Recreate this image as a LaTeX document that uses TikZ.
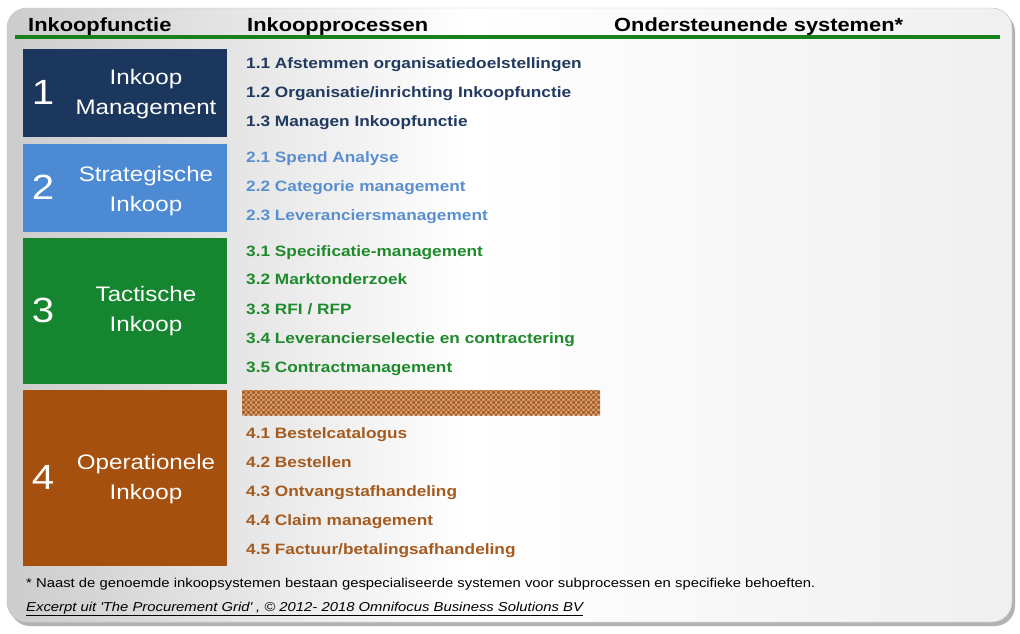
\documentclass[tikz,border=0pt]{standalone}
\usepackage{fontspec}
\setmainfont{Liberation Sans}
\newfontfamily\widefont{Liberation Sans}[FakeStretch=1.15]
\usetikzlibrary{positioning, patterns}

\definecolor{navyblue}{RGB}{28,55,94}
\definecolor{skyblue}{RGB}{77,138,212}
\definecolor{leafgreen}{RGB}{21,133,48}
\definecolor{rustbrown}{RGB}{165,80,15}
\definecolor{navytext}{RGB}{33,58,96}
\definecolor{skytext}{RGB}{90,143,207}
\definecolor{leaftext}{RGB}{30,138,43}
\definecolor{rusttext}{RGB}{165,90,30}
\definecolor{headgreen}{RGB}{24,128,28}
\definecolor{hatchfill}{RGB}{228,186,146}
\definecolor{hatchdots}{RGB}{172,96,40}

% diamond dot lattice for the bar above 4.x
\pgfdeclarepatternformonly{latticedots}{\pgfqpoint{0pt}{0pt}}{\pgfqpoint{4.6pt}{4.6pt}}{\pgfqpoint{4.6pt}{4.6pt}}{
  \pgfpathcircle{\pgfqpoint{2.3pt}{2.3pt}}{1.7pt}
  \pgfpathcircle{\pgfqpoint{0pt}{0pt}}{1.7pt}
  \pgfpathcircle{\pgfqpoint{4.6pt}{0pt}}{1.7pt}
  \pgfpathcircle{\pgfqpoint{0pt}{4.6pt}}{1.7pt}
  \pgfpathcircle{\pgfqpoint{4.6pt}{4.6pt}}{1.7pt}
  \pgfusepath{fill}}

\newcommand\headfont{\widefont\bfseries\fontsize{19}{22}\selectfont}
\newcommand\itemfont{\widefont\bfseries\fontsize{15}{18}\selectfont}
\newcommand\boxfont{\widefont\fontsize{21}{30}\selectfont}
\newcommand\numfont{\widefont\fontsize{35}{35}\selectfont}
\newcommand\notefont{\widefont\fontsize{12.9}{15}\selectfont}

\begin{document}
\begin{tikzpicture}[x=1pt,y=-1pt,
    catbox/.style={rectangle, anchor=north west, inner sep=0pt, minimum width=204pt},
    catnum/.style={text=white, font=\numfont, inner sep=0pt},
    catlbl/.style={text=white, font=\boxfont, align=center, inner sep=0pt},
    item/.style={anchor=base west, inner sep=0pt, font=\itemfont},
    head/.style={anchor=base west, inner sep=0pt, font=\headfont},
    note/.style={anchor=base west, inner sep=0pt, font=\notefont}]
  \useasboundingbox (0,0) rectangle (1020,633);
  % Card with shadow
  \fill[black!30, rounded corners=20pt] (10,12) rectangle (1015,626);
  \fill[white, rounded corners=20pt] (7,8) rectangle (1012,622);
  \begin{scope}
    \clip[rounded corners=20pt] (7,8) rectangle (1012,622);
    \shade[left color=black!20, right color=white] (7,8) rectangle (470,622);
    \shade[left color=white, right color=black!6] (470,8) rectangle (1012,622);
  \end{scope}
  \draw[black!25, rounded corners=20pt] (7,8) rectangle (1012,622);

  % Column heads
  \node[head] (hfunctie) at (28,31) {Inkoopfunctie};
  \node[head] (hprocessen) at (247,31) {Inkoopprocessen};
  \node[head] (hsystemen) at (614,31) {Ondersteunende systemen*};
  \draw[headgreen, line width=4pt] (15,37) -- (1000,37);

  % Inkoopfuncties
  \node[catbox, fill=navyblue, minimum height=88pt] (cat1) at (23,49) {};
  \node[catbox, fill=skyblue, minimum height=88pt] (cat2) at (23,144) {};
  \node[catbox, fill=leafgreen, minimum height=146pt] (cat3) at (23,238) {};
  \node[catbox, fill=rustbrown, minimum height=176pt] (cat4) at (23,390) {};

  \node[catnum] (num1) at (43,92) {1};
  \node[catlbl] (lbl1) at (146,94.5) {Inkoop\\Management};
  \node[catnum] (num2) at (43,187) {2};
  \node[catlbl] (lbl2) at (146,191) {Strategische\\Inkoop};
  \node[catnum] (num3) at (43,310) {3};
  \node[catlbl] (lbl3) at (146,311.5) {Tactische\\Inkoop};
  \node[catnum] (num4) at (43,477) {4};
  \node[catlbl] (lbl4) at (146,479) {Operationele\\Inkoop};

  % Inkoopprocessen
  \node[item, text=navytext] (p11) at (246,68.5) {1.1 Afstemmen organisatiedoelstellingen};
  \node[item, text=navytext] (p12) at (246,97.5) {1.2 Organisatie/inrichting Inkoopfunctie};
  \node[item, text=navytext] (p13) at (246,126.5) {1.3 Managen Inkoopfunctie};

  \node[item, text=skytext] (p21) at (246,162.5) {2.1 Spend Analyse};
  \node[item, text=skytext] (p22) at (246,191.5) {2.2 Categorie management};
  \node[item, text=skytext] (p23) at (246,220.5) {2.3 Leveranciersmanagement};

  \node[item, text=leaftext] (p31) at (246,256.5) {3.1 Specificatie-management};
  \node[item, text=leaftext] (p32) at (246,284.5) {3.2 Marktonderzoek};
  \node[item, text=leaftext] (p33) at (246,314.5) {3.3 RFI / RFP};
  \node[item, text=leaftext] (p34) at (246,343.5) {3.4 Leverancierselectie en contractering};
  \node[item, text=leaftext] (p35) at (246,372.5) {3.5 Contractmanagement};

  % Hatched bar above 4.x
  \fill[hatchfill] (242,390) rectangle (600,415);
  \fill[pattern=latticedots, pattern color=hatchdots] (242,390) rectangle (600,415);

  \node[item, text=rusttext] (p41) at (246,438.5) {4.1 Bestelcatalogus};
  \node[item, text=rusttext] (p42) at (246,467.5) {4.2 Bestellen};
  \node[item, text=rusttext] (p43) at (246,496.5) {4.3 Ontvangstafhandeling};
  \node[item, text=rusttext] (p44) at (246,525.5) {4.4 Claim management};
  \node[item, text=rusttext] (p45) at (246,554.5) {4.5 Factuur/betalingsafhandeling};

  % Footnotes
  \node[note] (fnote) at (26,587) {* Naast de genoemde inkoopsystemen bestaan gespecialiseerde systemen voor subprocessen en specifieke behoeften.};
  \node[note] (fsource) at (26,611) {\itshape\underline{Excerpt uit \textquotesingle The Procurement Grid\textquotesingle\ , \textcopyright\ 2012- 2018 Omnifocus Business Solutions BV}};
\end{tikzpicture}
\end{document}
